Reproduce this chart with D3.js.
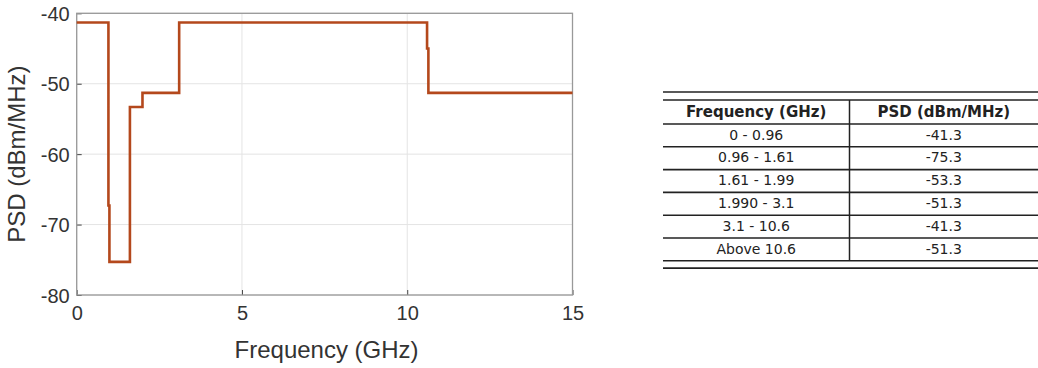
<!DOCTYPE html>
<html>
<head>
<meta charset="utf-8">
<script src="https://cdn.jsdelivr.net/npm/d3@7"></script>
<style>
  html, body { margin: 0; padding: 0; background: #fff; }
  svg { display: block; }
</style>
</head>
<body>
<svg id="chart" width="1038" height="368"></svg>
<script>
// ---- Data ----
const freqPts = [0, 0.96, 0.96, 0.99, 0.99, 1.61, 1.61, 1.99, 1.99, 3.1, 3.1, 10.6, 10.6, 10.64, 10.64, 15];
const psdPts  = [-41.3, -41.3, -67.3, -67.3, -75.3, -75.3, -53.3, -53.3, -51.3, -51.3, -41.3, -41.3, -45, -45, -51.3, -51.3];
const xTicks = [0, 5, 10, 15];
const yTicks = [-40, -50, -60, -70, -80];
const tableHeader = ["Frequency (GHz)", "PSD (dBm/MHz)"];
const tableFreq = ["0 - 0.96", "0.96 - 1.61", "1.61 - 1.99", "1.990 - 3.1", "3.1 - 10.6", "Above 10.6"];
const tablePSD  = ["-41.3", "-75.3", "-53.3", "-51.3", "-41.3", "-51.3"];

const svg = d3.select("#chart");

// ---- Plot ----
const L = 76.7, R = 572.5, T = 13.3, B = 295;
const x = d3.scaleLinear().domain([0, 15]).range([L, R]);
const y = d3.scaleLinear().domain([-80, -40]).range([B, T]);

const g = svg.append("g");
// grid
g.selectAll(".vg").data(xTicks).enter().append("line")
  .attr("x1", d => x(d)).attr("x2", d => x(d)).attr("y1", T).attr("y2", B)
  .attr("stroke", "#e4e4e4").attr("stroke-width", 1);
g.selectAll(".hg").data(yTicks).enter().append("line")
  .attr("x1", L).attr("x2", R).attr("y1", d => y(d)).attr("y2", d => y(d))
  .attr("stroke", "#e4e4e4").attr("stroke-width", 1);

// axes via d3
const xAxis = d3.axisBottom(x).tickValues(xTicks).tickSize(-5).tickPadding(11).tickFormat(d3.format("d"));
const yAxis = d3.axisLeft(y).tickValues(yTicks).tickSize(-5).tickPadding(7).tickFormat(d => d);
const gx = g.append("g").attr("transform", `translate(0,${B})`).call(xAxis);
const gy = g.append("g").attr("transform", `translate(${L},0)`).call(yAxis);
[gx, gy].forEach(a => {
  a.select(".domain").remove();
  a.selectAll(".tick line").attr("stroke", "#444").attr("stroke-width", 1);
  a.selectAll(".tick text").attr("fill", "#333")
    .style("font-family", "'Liberation Sans', Arial, sans-serif").style("font-size", "20px");
});
gx.selectAll(".tick text").attr("dy", "0.71em");
gy.selectAll(".tick text").attr("dy", "0.35em");

// box
g.append("rect").attr("x", L).attr("y", T).attr("width", R - L).attr("height", B - T)
  .attr("fill", "none").attr("stroke", "#999").attr("stroke-width", 1.3);

// line
const pts = freqPts.map((f, i) => [f, psdPts[i]]);
g.append("path").datum(pts)
  .attr("d", d3.line().x(d => x(d[0])).y(d => y(d[1])))
  .attr("fill", "none").attr("stroke", "#b4481c").attr("stroke-width", 2.6)
  .attr("stroke-linejoin", "miter");

// labels
g.append("text").attr("x", (L + R) / 2 + 2).attr("y", 358)
  .attr("text-anchor", "middle").attr("fill", "#333")
  .style("font-family", "'Liberation Sans', Arial, sans-serif").style("font-size", "24px")
  .text("Frequency (GHz)");
g.append("text").attr("transform", `translate(25,${(T + B) / 2}) rotate(-90)`)
  .attr("text-anchor", "middle").attr("fill", "#333")
  .style("font-family", "'Liberation Sans', Arial, sans-serif").style("font-size", "24px")
  .text("PSD (dBm/MHz)");

// ---- Table ----
const tx0 = 663, tx1 = 1038, tdiv = 849.5;
const c1 = (tx0 + tdiv) / 2, c2 = (tdiv + tx1) / 2;
const headTop = 100, headBot = 124, rowH = 22.8;
const rowY = d3.scaleLinear().domain([0, tableFreq.length]).range([headBot, headBot + rowH * tableFreq.length]);
const tg = svg.append("g");
const hline = (yy, w) => tg.append("line").attr("x1", tx0).attr("x2", tx1)
  .attr("y1", yy).attr("y2", yy).attr("stroke", "#222").attr("stroke-width", w);
hline(92, 1.5);
hline(headTop, 1.6);
hline(headBot, 1.6);
tableFreq.forEach((d, i) => hline(rowY(i + 1), 1.6));
const tBot = rowY(tableFreq.length);
hline(tBot + 7.3, 1.6);
tg.append("line").attr("x1", tdiv).attr("x2", tdiv).attr("y1", headTop).attr("y2", tBot)
  .attr("stroke", "#222").attr("stroke-width", 1.5);

const tfont = "'DejaVu Sans', sans-serif";
tg.selectAll(".hd").data(tableHeader).enter().append("text")
  .attr("x", (d, i) => i === 0 ? c1 : c2).attr("y", 117.3)
  .attr("text-anchor", "middle").attr("fill", "#222")
  .style("font-family", tfont).style("font-size", "15px").style("font-weight", "bold")
  .text(d => d);
tg.selectAll(".f").data(tableFreq).enter().append("text")
  .attr("x", c1).attr("y", (d, i) => rowY(i) + 15.5)
  .attr("text-anchor", "middle").attr("fill", "#222")
  .style("font-family", tfont).style("font-size", "14px")
  .text(d => d);
tg.selectAll(".p").data(tablePSD).enter().append("text")
  .attr("x", c2).attr("y", (d, i) => rowY(i) + 15.5)
  .attr("text-anchor", "middle").attr("fill", "#222")
  .style("font-family", tfont).style("font-size", "14px")
  .text(d => d);
</script>
</body>
</html>
